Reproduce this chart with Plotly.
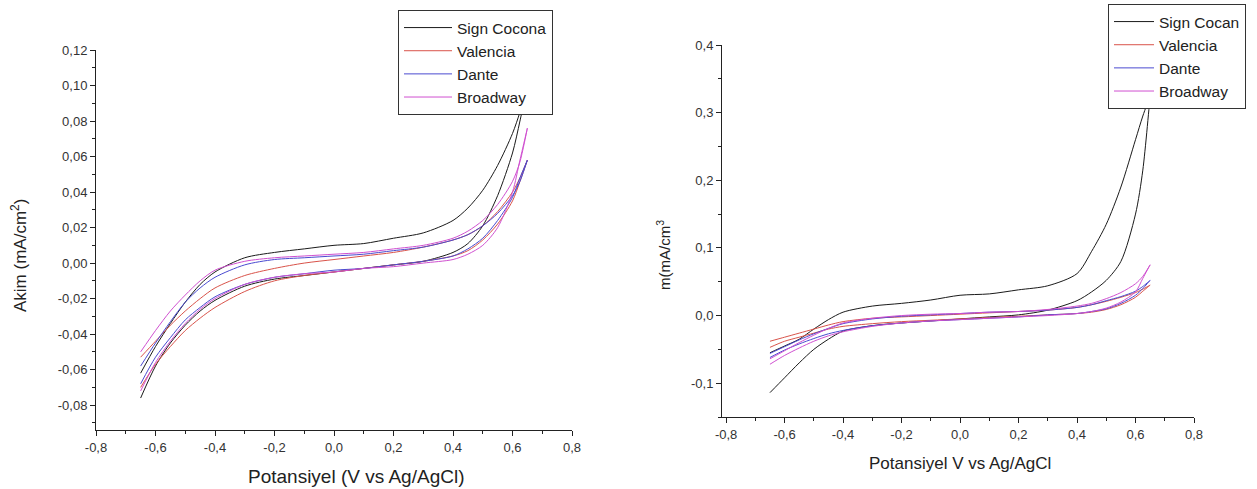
import plotly.graph_objects as go

# ---------------- data ----------------
POTENTIAL = [-0.65, -0.6, -0.55, -0.5, -0.45, -0.4, -0.3, -0.2, -0.1, 0.0,
             0.1, 0.2, 0.3, 0.4, 0.45, 0.5, 0.55, 0.6, 0.625, 0.65]
SERIES = ["Sign Cocona", "Valencia", "Dante", "Broadway"]
RIGHT_SERIES = ["Sign Cocan", "Valencia", "Dante", "Broadway"]
COLORS = ["#1a1a1a", "#d9534a", "#4a4ad0", "#d050d0"]

# left panel (mA/cm2): forward scan (ascending potential) and reverse scan (descending)
left_sc_fwd = [-0.062, -0.047, -0.034, -0.022, -0.012, -0.005, 0.003, 0.006, 0.008, 0.010,
               0.011, 0.014, 0.017, 0.024, 0.031, 0.041, 0.055, 0.073, 0.085, 0.100]
left_sc_rev = [0.100, 0.080, 0.062, 0.038, 0.021, 0.011, 0.006, 0.001, -0.001, -0.003,
               -0.005, -0.007, -0.009, -0.013, -0.021, -0.027, -0.035, -0.045, -0.058, -0.076]
left_va_fwd = [-0.053, -0.044, -0.035, -0.027, -0.020, -0.014, -0.007, -0.003, 0.000, 0.002,
               0.004, 0.006, 0.009, 0.013, 0.016, 0.021, 0.029, 0.040, 0.048, 0.058]
left_va_rev = [0.058, 0.046, 0.035, 0.022, 0.013, 0.007, 0.004, 0.001, -0.001, -0.003,
               -0.005, -0.007, -0.010, -0.016, -0.025, -0.031, -0.038, -0.047, -0.057, -0.070]
left_da_fwd = [-0.058, -0.045, -0.033, -0.022, -0.014, -0.008, -0.001, 0.002, 0.003, 0.004,
               0.005, 0.007, 0.009, 0.013, 0.016, 0.021, 0.028, 0.038, 0.046, 0.058]
left_da_rev = [0.058, 0.048, 0.037, 0.024, 0.014, 0.008, 0.004, 0.001, -0.001, -0.003,
               -0.004, -0.006, -0.008, -0.012, -0.019, -0.025, -0.032, -0.042, -0.053, -0.068]
left_br_fwd = [-0.050, -0.038, -0.027, -0.018, -0.010, -0.004, 0.001, 0.003, 0.004, 0.005,
               0.006, 0.008, 0.010, 0.014, 0.018, 0.024, 0.033, 0.046, 0.057, 0.076]
left_br_rev = [0.076, 0.058, 0.040, 0.020, 0.010, 0.005, 0.002, 0.000, -0.002, -0.003,
               -0.005, -0.006, -0.008, -0.012, -0.020, -0.026, -0.034, -0.044, -0.056, -0.072]

# right panel (mA/cm3)
right_sc_fwd = [-0.055, -0.045, -0.035, -0.020, -0.006, 0.005, 0.014, 0.018, 0.023, 0.030,
                0.032, 0.038, 0.044, 0.062, 0.095, 0.135, 0.190, 0.260, 0.295, 0.325]
right_sc_rev = [0.325, 0.215, 0.150, 0.080, 0.052, 0.035, 0.022, 0.008, 0.001, -0.002,
                -0.005, -0.008, -0.011, -0.015, -0.023, -0.035, -0.050, -0.070, -0.092, -0.114]
right_va_fwd = [-0.038, -0.032, -0.026, -0.020, -0.014, -0.009, -0.004, -0.002, 0.000, 0.002,
                0.004, 0.006, 0.008, 0.012, 0.016, 0.021, 0.027, 0.034, 0.039, 0.045]
right_va_rev = [0.045, 0.036, 0.027, 0.016, 0.009, 0.005, 0.003, 0.001, -0.001, -0.003,
                -0.005, -0.007, -0.009, -0.012, -0.016, -0.020, -0.026, -0.032, -0.038, -0.047]
right_da_fwd = [-0.056, -0.046, -0.036, -0.027, -0.019, -0.012, -0.005, -0.001, 0.001, 0.003,
                0.005, 0.006, 0.008, 0.012, 0.016, 0.022, 0.028, 0.036, 0.043, 0.052]
right_da_rev = [0.052, 0.040, 0.030, 0.018, 0.010, 0.006, 0.003, 0.001, -0.002, -0.004,
                -0.006, -0.008, -0.011, -0.015, -0.022, -0.027, -0.034, -0.042, -0.051, -0.062]
right_br_fwd = [-0.064, -0.052, -0.040, -0.029, -0.019, -0.011, -0.004, 0.000, 0.002, 0.003,
                0.005, 0.006, 0.009, 0.014, 0.018, 0.025, 0.034, 0.047, 0.058, 0.075]
right_br_rev = [0.075, 0.055, 0.035, 0.020, 0.011, 0.006, 0.003, 0.000, -0.002, -0.004,
                -0.006, -0.008, -0.011, -0.016, -0.024, -0.030, -0.038, -0.048, -0.059, -0.072]

X_TICKS = [-0.8, -0.6, -0.4, -0.2, 0.0, 0.2, 0.4, 0.6, 0.8]
X_LABELS = ["-0,8", "-0,6", "-0,4", "-0,2", "0,0", "0,2", "0,4", "0,6", "0,8"]
LEFT_Y_TICKS = [-0.08, -0.06, -0.04, -0.02, 0.0, 0.02, 0.04, 0.06, 0.08, 0.10, 0.12]
LEFT_Y_LABELS = ["-0,08", "-0,06", "-0,04", "-0,02", "0,00", "0,02", "0,04", "0,06",
                 "0,08", "0,10", "0,12"]
RIGHT_Y_TICKS = [-0.1, 0.0, 0.1, 0.2, 0.3, 0.4]
RIGHT_Y_LABELS = ["-0,1", "0,0", "0,1", "0,2", "0,3", "0,4"]

left_data = [(left_sc_fwd, left_sc_rev), (left_va_fwd, left_va_rev),
             (left_da_fwd, left_da_rev), (left_br_fwd, left_br_rev)]
right_data = [(right_sc_fwd, right_sc_rev), (right_va_fwd, right_va_rev),
              (right_da_fwd, right_da_rev), (right_br_fwd, right_br_rev)]

# ---------------- figure ----------------
W, H = 1257, 489
FONT = "Liberation Sans, Arial, sans-serif"
loop_x = POTENTIAL + POTENTIAL[::-1]

fig = go.Figure()
for name, color, (fwd, rev) in zip(SERIES, COLORS, left_data):
    fig.add_trace(go.Scatter(x=loop_x, y=fwd + rev, mode="lines", name=name,
                             line=dict(color=color, width=1, shape="spline", smoothing=0.8),
                             xaxis="x", yaxis="y", legend="legend"))
for name, color, (fwd, rev) in zip(RIGHT_SERIES, COLORS, right_data):
    fig.add_trace(go.Scatter(x=loop_x, y=fwd + rev, mode="lines", name=name,
                             line=dict(color=color, width=1, shape="spline", smoothing=0.8),
                             xaxis="x2", yaxis="y2", legend="legend2"))


def px(v):
    return v / W


def py(v):
    return 1 - v / H


axis_common = dict(showline=True, linecolor="#222", linewidth=1, showgrid=False,
                   zeroline=False, ticks="outside", ticklen=5, tickcolor="#222",
                   tickfont=dict(family=FONT, size=13, color="#333"), tickmode="array")
minor_common = dict(ticks="outside", ticklen=3, tickcolor="#222", tickmode="linear")

fig.update_layout(
    width=W, height=H,
    margin=dict(l=0, r=0, t=0, b=0, autoexpand=False),
    paper_bgcolor="white", plot_bgcolor="white",
    font=dict(family=FONT, color="#222"),
    showlegend=True,
    xaxis=dict(domain=[px(96), px(572)], range=[-0.8, 0.8], anchor="y",
               tickvals=X_TICKS, ticktext=X_LABELS,
               minor=dict(tick0=-0.8, dtick=0.1, **minor_common),
               **axis_common),
    yaxis=dict(domain=[py(430), py(50)], range=[-0.094, 0.12], anchor="x",
               tickvals=LEFT_Y_TICKS, ticktext=LEFT_Y_LABELS,
               minor=dict(tick0=-0.09, dtick=0.02, **minor_common),
               **axis_common),
    xaxis2=dict(domain=[px(722), px(1194)], range=[-0.814, 0.8], anchor="y2",
                tickvals=X_TICKS, ticktext=X_LABELS,
                minor=dict(tick0=-0.8, dtick=0.1, **minor_common),
                **axis_common),
    yaxis2=dict(domain=[py(417), py(45)], range=[-0.15, 0.4], anchor="x2",
                tickvals=RIGHT_Y_TICKS, ticktext=RIGHT_Y_LABELS,
                minor=dict(tick0=-0.15, dtick=0.1, **minor_common),
                **axis_common),
    legend=dict(x=px(398), y=py(10), xanchor="left", yanchor="top",
                bgcolor="white", bordercolor="#333", borderwidth=1,
                font=dict(family=FONT, size=15.5, color="#222"), tracegroupgap=0,
                itemwidth=48),
    legend2=dict(x=px(1108), y=py(4), xanchor="left", yanchor="top",
                 bgcolor="white", bordercolor="#333", borderwidth=1,
                 font=dict(family=FONT, size=15.5, color="#222"), tracegroupgap=0,
                 itemwidth=40),
)

annotations = [
    dict(text="Potansiyel (V vs Ag/AgCl)", x=px(356), y=py(476), showarrow=False,
         font=dict(family=FONT, size=19, color="#222")),
    dict(text="Potansiyel V vs Ag/AgCl", x=px(960), y=py(463), showarrow=False,
         font=dict(family=FONT, size=17, color="#222")),
    dict(text="Akim (mA/cm<sup>2</sup>)", x=px(19), y=py(256), showarrow=False, textangle=-90,
         font=dict(family=FONT, size=17, color="#222")),
    dict(text="m(mA/cm<sup>3</sup>", x=px(663), y=py(255), showarrow=False, textangle=-90,
         font=dict(family=FONT, size=15, color="#222")),
]
for a in annotations:
    a.update(xref="paper", yref="paper", xanchor="center", yanchor="middle")
fig.update_layout(annotations=annotations)

fig.write_html("out.html", config={"displayModeBar": False},
               post_script="document.body.style.margin='0';")
